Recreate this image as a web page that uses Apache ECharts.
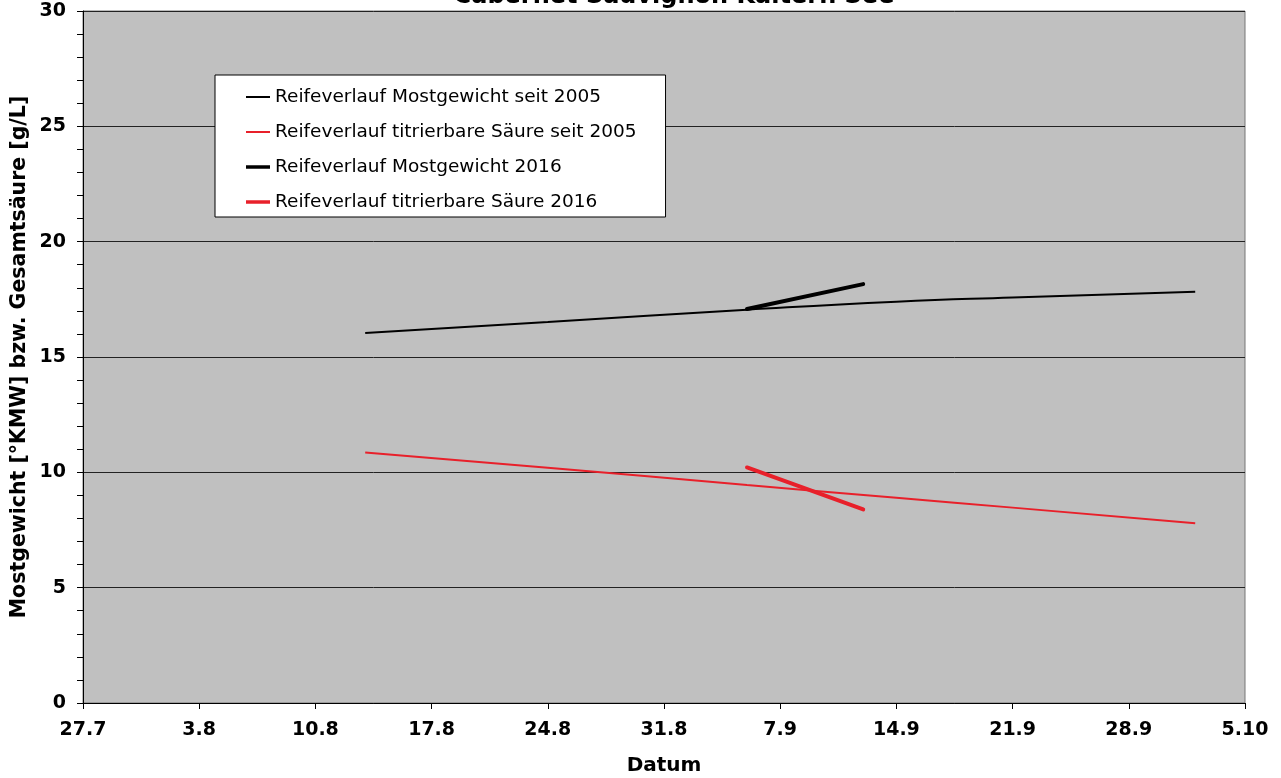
<!DOCTYPE html>
<html>
<head>
<meta charset="utf-8">
<script src="https://cdn.jsdelivr.net/npm/echarts@6/dist/echarts.min.js"></script>
<style>
html,body{margin:0;padding:0;background:#fff;}
#chart{width:1281px;height:778px;}
</style>
</head>
<body>
<div id="chart"></div>
<script>
const tickLabels = ['27.7','3.8','10.8','17.8','24.8','31.8','7.9','14.9','21.9','28.9','5.10'];
const avgDates = ['13.8','24.8','5.9','14.9','21.9','2.10'];
const avgMostgewicht = [16.04, 16.52, 17.05, 17.40, 17.58, 17.83];
const avgSaeure = [10.86, 10.20, 9.45, 8.90, 8.47, 7.79];
const dates2016 = ['5.9','12.9'];
const mostgewicht2016 = [17.08, 18.16];
const saeure2016 = [10.21, 8.39];
const seriesNames = [
  'Reifeverlauf Mostgewicht seit 2005',
  'Reifeverlauf titrierbare Säure seit 2005',
  'Reifeverlauf Mostgewicht 2016',
  'Reifeverlauf titrierbare Säure 2016'
];

const FONT = 'DejaVu Sans';
const RED = '#e8202a';
const START = Date.UTC(2016, 6, 27);
function dayOf(s) {
  const p = s.split('.');
  return Math.round((Date.UTC(2016, +p[1] - 1, +p[0]) - START) / 86400000);
}
function pairs(dates, vals) { return dates.map((d, i) => [dayOf(d), vals[i]]); }

const thinIcon = 'path://M0 0H24V2H0Z';
const boldIcon = 'path://M0 0H24V3.5H0Z';

const chart = echarts.init(document.getElementById('chart'));
chart.setOption({
  animation: false,
  backgroundColor: '#fff',
  title: {
    text: 'Cabernet Sauvignon Kaltern See',
    left: 669, top: -20, textAlign: 'center',
    textStyle: { fontFamily: FONT, fontWeight: 'bold', fontSize: 24, color: '#000' }
  },
  grid: {
    left: 83, right: 36, top: 11, bottom: 75,
    outerBoundsMode: 'none',
    containLabel: false,
    show: true, backgroundColor: '#c0c0c0', borderColor: '#777', borderWidth: 1
  },
  legend: {
    orient: 'vertical',
    left: 215, top: 75,
    padding: [12, 29, 5, 31],
    itemGap: 15,
    itemWidth: 24, itemHeight: 14,
    symbolKeepAspect: true,
    backgroundColor: '#fff',
    borderColor: '#000', borderWidth: 1,
    borderRadius: 0,
    data: [
      { name: seriesNames[0], icon: thinIcon, itemStyle: { color: '#000' } },
      { name: seriesNames[1], icon: thinIcon, itemStyle: { color: RED } },
      { name: seriesNames[2], icon: boldIcon, itemStyle: { color: '#000' } },
      { name: seriesNames[3], icon: boldIcon, itemStyle: { color: RED } }
    ],
    textStyle: { fontFamily: FONT, fontSize: 18.5, lineHeight: 20, color: '#000' }
  },
  xAxis: {
    type: 'value', min: 0, max: 70, interval: 7,
    name: 'Datum', nameLocation: 'middle', nameGap: 53,
    nameMoveOverlap: false,
    nameTextStyle: { fontFamily: FONT, fontWeight: 'bold', fontSize: 20, color: '#000' },
    axisLine: { show: true, lineStyle: { color: '#000', width: 1 } },
    axisTick: { show: true, inside: false, length: 6, lineStyle: { color: '#000' } },
    axisLabel: {
      margin: 18,
      fontFamily: FONT, fontWeight: 'bold', fontSize: 19, color: '#000',
      formatter: v => tickLabels[Math.round(v / 7)] || ''
    },
    splitLine: { show: false }
  },
  yAxis: {
    type: 'value', min: 0, max: 30, interval: 5,
    name: 'Mostgewicht [°KMW] bzw. Gesamtsäure [g/L]',
    nameLocation: 'middle', nameGap: 53, nameRotate: 90,
    nameMoveOverlap: false,
    nameTextStyle: { fontFamily: FONT, fontWeight: 'bold', fontSize: 20.5, color: '#000' },
    axisLine: { show: true, lineStyle: { color: '#000', width: 1 } },
    axisTick: { show: true, inside: false, length: 6, lineStyle: { color: '#000' } },
    minorTick: { show: true, splitNumber: 5, length: 6, lineStyle: { color: '#000' } },
    axisLabel: { margin: 17, fontFamily: FONT, fontWeight: 'bold', fontSize: 19, color: '#000' },
    splitLine: { show: true, lineStyle: { color: '#222', width: 1 } }
  },
  series: [
    {
      name: seriesNames[0], type: 'line', symbol: 'none', smooth: true,
      data: pairs(avgDates, avgMostgewicht),
      lineStyle: { color: '#000', width: 2 }, itemStyle: { color: '#000' }
    },
    {
      name: seriesNames[1], type: 'line', symbol: 'none', smooth: true,
      data: pairs(avgDates, avgSaeure),
      lineStyle: { color: RED, width: 2 }, itemStyle: { color: RED }
    },
    {
      name: seriesNames[2], type: 'line', symbol: 'none',
      data: pairs(dates2016, mostgewicht2016),
      lineStyle: { color: '#000', width: 4, cap: 'round' }, itemStyle: { color: '#000' }
    },
    {
      name: seriesNames[3], type: 'line', symbol: 'none',
      data: pairs(dates2016, saeure2016),
      lineStyle: { color: RED, width: 4, cap: 'round' }, itemStyle: { color: RED }
    }
  ]
});
</script>
</body>
</html>
